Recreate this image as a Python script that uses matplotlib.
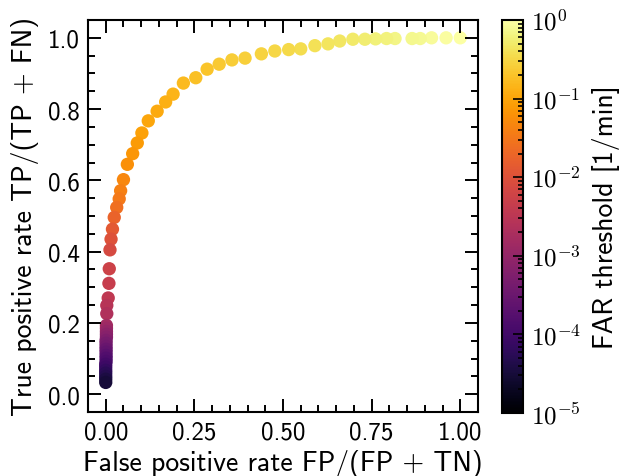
import matplotlib
matplotlib.use("Agg")
import math
import matplotlib.pyplot as plt
from matplotlib.colors import LogNorm
from matplotlib.ticker import MultipleLocator, FuncFormatter

# False positive rate, true positive rate and FAR threshold exponent (log10) per point
fpr = [1.000, 0.960, 0.919, 0.887, 0.864, 0.816, 0.792, 0.761, 0.731, 0.697,
       0.660, 0.627, 0.590, 0.550, 0.516, 0.477, 0.439, 0.393, 0.356, 0.320,
       0.286, 0.254, 0.219, 0.190, 0.169, 0.145, 0.120, 0.102, 0.089, 0.076,
       0.061, 0.050, 0.042, 0.038, 0.031, 0.024, 0.019, 0.015, 0.012, 0.010,
       0.009, 0.007, 0.003, 0.003,
       0.002, 0.002, 0.002, 0.002, 0.002, 0.001, 0.001, 0.001, 0.001, 0.001,
       0.001, 0.001, 0.001, 0.000, 0.000, 0.000, 0.000, 0.000, 0.000, 0.000]
tpr = [1.000, 1.000, 1.000, 0.998, 0.998, 0.998, 0.998, 0.997, 0.996, 0.996,
       0.991, 0.983, 0.978, 0.969, 0.967, 0.963, 0.955, 0.943, 0.938, 0.926,
       0.912, 0.888, 0.873, 0.842, 0.820, 0.794, 0.767, 0.733, 0.705, 0.675,
       0.645, 0.602, 0.571, 0.548, 0.524, 0.496, 0.463, 0.435, 0.405, 0.352,
       0.311, 0.270, 0.249, 0.226,
       0.193, 0.185, 0.176, 0.168, 0.160, 0.151, 0.143, 0.134, 0.126, 0.118,
       0.109, 0.101, 0.092, 0.084, 0.076, 0.067, 0.059, 0.050, 0.042, 0.033]
far_exp = [0.00, -0.03, -0.07, -0.10, -0.13, -0.17, -0.20, -0.23, -0.27, -0.30,
           -0.34, -0.37, -0.40, -0.44, -0.47, -0.50, -0.54, -0.57, -0.60, -0.64,
           -0.69, -0.74, -0.79, -0.84, -0.89, -0.94, -0.99, -1.04, -1.10, -1.16,
           -1.23, -1.31, -1.39, -1.47, -1.60, -1.74, -1.88, -2.00, -2.12, -2.25,
           -2.35, -2.45, -2.55, -2.65,
           -2.80, -2.89, -2.98, -3.07, -3.16, -3.25, -3.34, -3.43, -3.52, -3.61,
           -3.70, -3.79, -3.88, -3.97, -4.06, -4.15, -4.24, -4.33, -4.42, -4.50]
far = [10.0 ** e for e in far_exp]

xticks = [0.0, 0.25, 0.5, 0.75, 1.0]
yticks = [0.0, 0.2, 0.4, 0.6, 0.8, 1.0]

plt.rcParams['font.family'] = ['cmss10', 'DejaVu Sans']
plt.rcParams['mathtext.fontset'] = 'cm'
plt.rcParams['axes.unicode_minus'] = False

W, H = 626, 477
fig = plt.figure(figsize=(W / 100, H / 100), dpi=100)
ax = fig.add_axes([88 / W, 1 - 413 / H, (478 - 88) / W, (413 - 21) / H])
cax = fig.add_axes([502 / W, 1 - 414 / H, 20.5 / W, (414 - 21) / H])

sc = ax.scatter(fpr, tpr, c=far, cmap='inferno', norm=LogNorm(1e-5, 1.0),
                s=92, linewidths=0)

ax.set_xlim(-0.05, 1.05)
ax.set_ylim(-0.05, 1.05)
ax.set_xticks(xticks)
ax.set_yticks(yticks)
ax.set_xticklabels([f"{v:.2f}" for v in xticks])
ax.set_yticklabels([f"{v:.1f}" for v in yticks])
ax.xaxis.set_minor_locator(MultipleLocator(0.05))
ax.yaxis.set_minor_locator(MultipleLocator(0.05))
ax.tick_params(which='both', direction='in', top=True, right=True, width=1.4,
               labelsize=18)
ax.tick_params(which='major', length=9.5, pad=6)
ax.tick_params(which='minor', length=5)
for sp in ax.spines.values():
    sp.set_linewidth(1.5)
ax.set_xlabel('False positive rate FP/(FP + TN)', fontsize=20, labelpad=4)
ax.set_ylabel('True positive rate TP/(TP + FN)', fontsize=20, labelpad=6)

cb = fig.colorbar(sc, cax=cax)
cb.outline.set_linewidth(1.5)
cax.yaxis.set_major_formatter(
    FuncFormatter(lambda v, p: r'$\mathsf{10^{%d}}$' % round(math.log10(v))))
cax.tick_params(which='both', direction='in', width=1.2, labelsize=18, pad=6)
cax.tick_params(which='major', length=7)
cax.tick_params(which='minor', length=3.5)
cb.set_label('FAR threshold [1/min]', fontsize=20, labelpad=8)

fig.savefig('out.png', dpi=100)
